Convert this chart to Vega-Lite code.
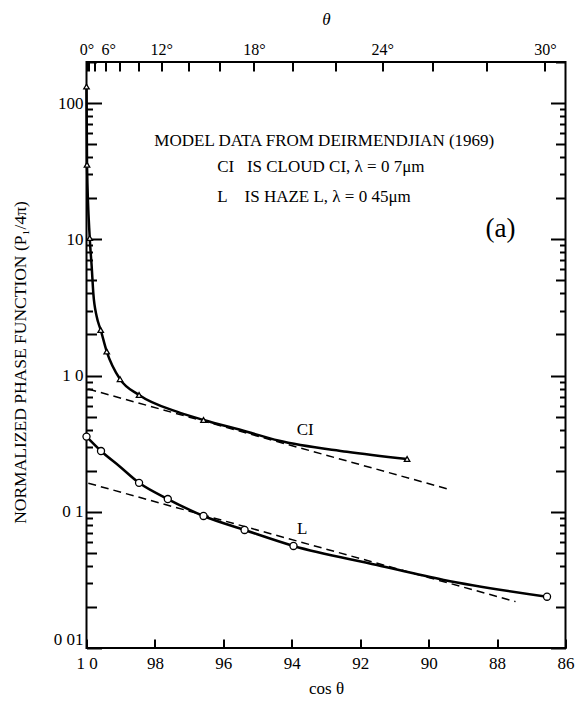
{
  "$schema": "https://vega.github.io/schema/vega-lite/v6.json",
  "width": 479,
  "height": 586,
  "autosize": {"type": "none"},
  "padding": {"left": 86.5, "top": 62, "right": 13.5, "bottom": 53},
  "background": "white",
  "config": {
    "view": {"stroke": "black", "strokeWidth": 2},
    "font": "Liberation Serif",
    "axis": {
      "domain": false,
      "grid": false,
      "labelFont": "Liberation Serif",
      "labelFontSize": 17,
      "labelColor": "black",
      "tickColor": "black",
      "tickWidth": 2,
      "zindex": 1,
      "titleFont": "Liberation Serif",
      "titleColor": "black",
      "titleFontWeight": "normal",
      "labelOverlap": false,
      "labelBound": false
    },
    "text": {"font": "Liberation Serif", "color": "black"}
  },
  "datasets": {
    "curves": [
      {"series": "CI", "cos": 1.0, "p": 132},
      {"series": "CI", "cos": 0.99985, "p": 35.2},
      {"series": "CI", "cos": 0.99905, "p": 10.2},
      {"series": "CI", "cos": 0.99848, "p": 6.3},
      {"series": "CI", "cos": 0.99801, "p": 4.02},
      {"series": "CI", "cos": 0.99702, "p": 2.71},
      {"series": "CI", "cos": 0.99585, "p": 2.16},
      {"series": "CI", "cos": 0.99409, "p": 1.5},
      {"series": "CI", "cos": 0.9902, "p": 0.94},
      {"series": "CI", "cos": 0.98464, "p": 0.72},
      {"series": "CI", "cos": 0.9736, "p": 0.543},
      {"series": "CI", "cos": 0.9658, "p": 0.472},
      {"series": "CI", "cos": 0.9531, "p": 0.387},
      {"series": "CI", "cos": 0.944, "p": 0.333},
      {"series": "CI", "cos": 0.9239, "p": 0.276},
      {"series": "CI", "cos": 0.9063, "p": 0.244},
      {"series": "L", "cos": 1.0, "p": 0.356},
      {"series": "L", "cos": 0.99576, "p": 0.279},
      {"series": "L", "cos": 0.9902, "p": 0.214},
      {"series": "L", "cos": 0.98464, "p": 0.163},
      {"series": "L", "cos": 0.97624, "p": 0.124},
      {"series": "L", "cos": 0.9658, "p": 0.0931},
      {"series": "L", "cos": 0.9538, "p": 0.0735},
      {"series": "L", "cos": 0.9395, "p": 0.0561},
      {"series": "L", "cos": 0.9151, "p": 0.0407},
      {"series": "L", "cos": 0.8956, "p": 0.0316},
      {"series": "L", "cos": 0.8654, "p": 0.0238}
    ],
    "markers": [
      {"series": "CI", "cos": 1.0, "p": 132},
      {"series": "CI", "cos": 0.99985, "p": 35.2},
      {"series": "CI", "cos": 0.99905, "p": 10.2},
      {"series": "CI", "cos": 0.99585, "p": 2.16},
      {"series": "CI", "cos": 0.99409, "p": 1.5},
      {"series": "CI", "cos": 0.9902, "p": 0.94},
      {"series": "CI", "cos": 0.98464, "p": 0.72},
      {"series": "CI", "cos": 0.9658, "p": 0.472},
      {"series": "CI", "cos": 0.9063, "p": 0.244},
      {"series": "L", "cos": 1.0, "p": 0.356},
      {"series": "L", "cos": 0.99576, "p": 0.279},
      {"series": "L", "cos": 0.98464, "p": 0.163},
      {"series": "L", "cos": 0.97624, "p": 0.124},
      {"series": "L", "cos": 0.9658, "p": 0.0931},
      {"series": "L", "cos": 0.9538, "p": 0.0735},
      {"series": "L", "cos": 0.9395, "p": 0.0561},
      {"series": "L", "cos": 0.8654, "p": 0.0238}
    ],
    "fits": [
      {"series": "CI", "cos": 0.99947, "p": 0.795},
      {"series": "CI", "cos": 0.894, "p": 0.146},
      {"series": "L", "cos": 0.99947, "p": 0.162},
      {"series": "L", "cos": 0.8746, "p": 0.0219}
    ]
  },
  "layer": [
    {
      "data": {"name": "curves"},
      "transform": [{"filter": "datum.series === 'CI'"}],
      "mark": {"type": "line", "interpolate": "monotone", "color": "black", "strokeWidth": 2.5},
      "encoding": {
        "x": {
          "field": "cos", "type": "quantitative",
          "scale": {"domain": [0.86, 1.0], "reverse": true, "nice": false, "zero": false},
          "axis": {
            "orient": "bottom",
            "values": [1, 0.98, 0.96, 0.94, 0.92, 0.9, 0.88, 0.86],
            "labelExpr": "datum.value == 1 ? '1 0' : '' + round(datum.value * 100)",
            "offset": -9,
            "tickSize": 9,
            "tickColor": "black",
            "labelPadding": 7,
            "labelFlush": false,
            "title": "cos θ",
            "titleFontSize": 17,
            "titleY": 49,
            "titleBaseline": "middle"
          }
        },
        "y": {
          "field": "p", "type": "quantitative",
          "scale": {"type": "log", "domain": [0.01, 200], "nice": false},
          "axis": {
            "orient": "left",
            "values": [0.01, 0.02, 0.03, 0.04, 0.05, 0.06, 0.07, 0.08, 0.09, 0.1, 0.2, 0.3, 0.4, 0.5, 0.6, 0.7, 0.8, 0.9, 1, 2, 3, 4, 5, 6, 7, 8, 9, 10, 20, 30, 40, 50, 60, 70, 80, 90, 100, 200],
            "labelExpr": "datum.value == 100 ? '100' : datum.value == 10 ? '10' : datum.value == 1 ? '1 0' : datum.value == 0.1 ? '0 1' : datum.value == 0.01 ? '0 01' : ''",
            "tickColor": "black",
            "tickSize": {"condition": [
              {"test": "indexof([0.01, 0.1, 1, 10, 100], datum.value) >= 0", "value": -15},
              {"test": "indexof([0.02, 0.05, 0.2, 0.5, 2, 5, 20, 50, 200], datum.value) >= 0", "value": -10}
            ], "value": -6},
            "labelPadding": 18.5,
            "labelFlush": true,
            "title": "NORMALIZED PHASE FUNCTION (P₁/4π)",
            "titleFontSize": 17.5,
            "titleX": -66.5,
            "titleY": 300,
            "titleBaseline": "middle"
          }
        }
      }
    },
    {
      "data": {"name": "curves"},
      "transform": [{"filter": "datum.series === 'L'"}],
      "mark": {"type": "line", "interpolate": "monotone", "color": "black", "strokeWidth": 2.5},
      "encoding": {
        "x": {
          "field": "cos", "type": "quantitative",
          "scale": {"domain": [0.86, 1.0], "reverse": true, "nice": false, "zero": false},
          "axis": {
            "orient": "top",
            "values": [1, 0.9993908, 0.9975641, 0.9945219, 0.9902681, 0.9848078, 0.9781476, 0.9702957, 0.9612617, 0.9510565, 0.9396926, 0.9271839, 0.9135455, 0.898794, 0.8829476, 0.8660254],
            "labelExpr": "indexof([1, 0.9945219, 0.9781476, 0.9510565, 0.9135455, 0.8660254], datum.value) >= 0 ? round(acos(datum.value) * 180 / PI) + '°' : ''",
            "labelFontSize": 16,
            "labelFlush": false,
            "labelOffset": {"condition": {"test": "datum.value == 0.9945219", "value": 3}, "value": 0},
            "tickColor": "black",
            "tickSize": -9,
            "labelPadding": 14,
            "title": "θ",
            "titleFontSize": 17,
            "titleFontStyle": "italic",
            "titleY": -43,
            "titleBaseline": "middle"
          }
        },
        "y": {
          "field": "p", "type": "quantitative",
          "scale": {"type": "log", "domain": [0.01, 200], "nice": false},
          "axis": {
            "orient": "right",
            "values": [0.01, 0.02, 0.03, 0.04, 0.05, 0.06, 0.07, 0.08, 0.09, 0.1, 0.2, 0.3, 0.4, 0.5, 0.6, 0.7, 0.8, 0.9, 1, 2, 3, 4, 5, 6, 7, 8, 9, 10, 20, 30, 40, 50, 60, 70, 80, 90, 100, 200],
            "labels": false,
            "tickColor": "black",
            "tickSize": {"condition": [
              {"test": "indexof([0.01, 0.1, 1, 10, 100], datum.value) >= 0", "value": -15},
              {"test": "indexof([0.02, 0.05, 0.2, 0.5, 2, 5, 20, 50, 200], datum.value) >= 0", "value": -10}
            ], "value": -6},
            "title": null
          }
        }
      }
    },
    {
      "data": {"name": "fits"},
      "mark": {"type": "line", "color": "black", "strokeWidth": 1.5, "strokeDash": [8, 5]},
      "encoding": {
        "detail": {"field": "series"},
        "x": {"field": "cos", "type": "quantitative", "scale": {"domain": [0.86, 1.0], "reverse": true, "nice": false, "zero": false}, "axis": null},
        "y": {"field": "p", "type": "quantitative", "scale": {"type": "log", "domain": [0.01, 200], "nice": false}, "axis": null}
      }
    },
    {
      "data": {"name": "markers"},
      "transform": [{"filter": "datum.series === 'CI'"}],
      "mark": {"type": "point", "shape": "triangle-up", "filled": true, "fill": "white", "stroke": "black", "strokeWidth": 1.3, "size": 30, "opacity": 1},
      "encoding": {
        "x": {"field": "cos", "type": "quantitative", "scale": {"domain": [0.86, 1.0], "reverse": true, "nice": false, "zero": false}, "axis": null},
        "y": {"field": "p", "type": "quantitative", "scale": {"type": "log", "domain": [0.01, 200], "nice": false}, "axis": null}
      }
    },
    {
      "data": {"name": "markers"},
      "transform": [{"filter": "datum.series === 'L'"}],
      "mark": {"type": "point", "shape": "circle", "filled": true, "fill": "white", "stroke": "black", "strokeWidth": 1.3, "size": 50, "opacity": 1},
      "encoding": {
        "x": {"field": "cos", "type": "quantitative", "scale": {"domain": [0.86, 1.0], "reverse": true, "nice": false, "zero": false}, "axis": null},
        "y": {"field": "p", "type": "quantitative", "scale": {"type": "log", "domain": [0.01, 200], "nice": false}, "axis": null}
      }
    },
    {
      "data": {"values": [
        {"label": "MODEL DATA FROM DEIRMENDJIAN (1969)", "cos": 0.9305, "p": 52.2},
        {"label": "CI", "cos": 0.93607, "p": 0.399},
        {"label": "L", "cos": 0.93695, "p": 0.0749}
      ]},
      "mark": {"type": "text", "align": "center", "baseline": "middle", "fontSize": 17},
      "encoding": {
        "text": {"field": "label"},
        "x": {"field": "cos", "type": "quantitative", "scale": {"domain": [0.86, 1.0], "reverse": true, "nice": false, "zero": false}, "axis": null},
        "y": {"field": "p", "type": "quantitative", "scale": {"type": "log", "domain": [0.01, 200], "nice": false}, "axis": null}
      }
    },
    {
      "data": {"values": [
        {"label": "CI\u00a0\u00a0\u00a0IS CLOUD CI, λ = 0 7μm", "cos": 0.96182, "p": 34.0},
        {"label": "L\u00a0\u00a0\u00a0\u00a0IS HAZE L, λ = 0 45μm", "cos": 0.96182, "p": 20.5}
      ]},
      "mark": {"type": "text", "align": "left", "baseline": "middle", "fontSize": 17},
      "encoding": {
        "text": {"field": "label"},
        "x": {"field": "cos", "type": "quantitative", "scale": {"domain": [0.86, 1.0], "reverse": true, "nice": false, "zero": false}, "axis": null},
        "y": {"field": "p", "type": "quantitative", "scale": {"type": "log", "domain": [0.01, 200], "nice": false}, "axis": null}
      }
    },
    {
      "data": {"values": [
        {"label": "(a)", "cos": 0.87902, "p": 11.9}
      ]},
      "mark": {"type": "text", "align": "center", "baseline": "middle", "fontSize": 27},
      "encoding": {
        "text": {"field": "label"},
        "x": {"field": "cos", "type": "quantitative", "scale": {"domain": [0.86, 1.0], "reverse": true, "nice": false, "zero": false}, "axis": null},
        "y": {"field": "p", "type": "quantitative", "scale": {"type": "log", "domain": [0.01, 200], "nice": false}, "axis": null}
      }
    }
  ],
  "resolve": {"scale": {"x": "independent", "y": "independent"}}
}
